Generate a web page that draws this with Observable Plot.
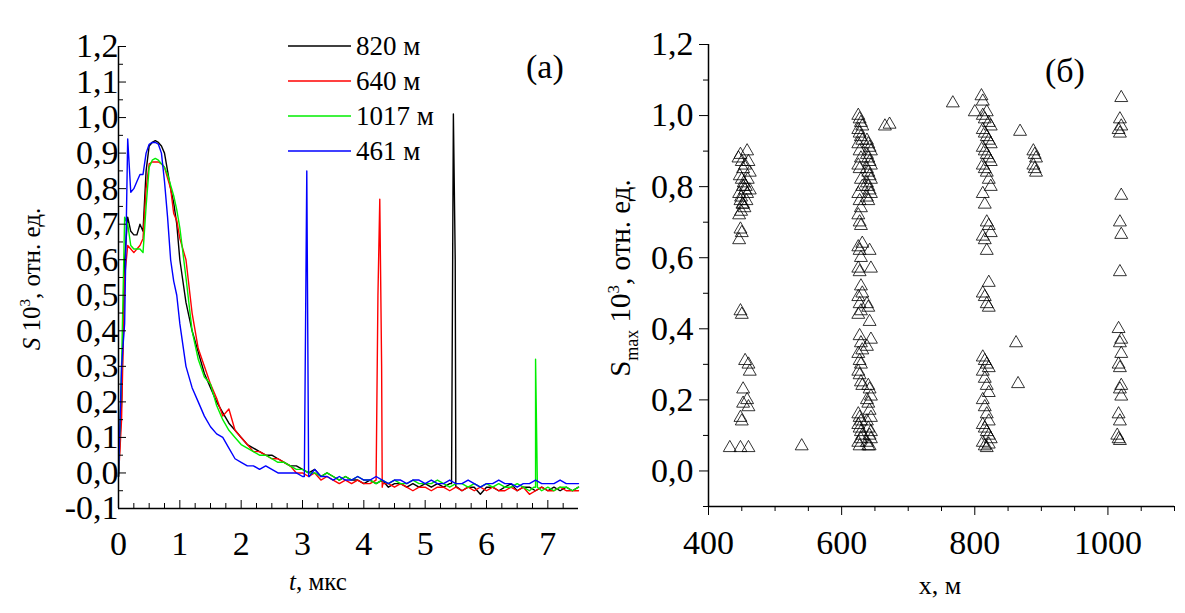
<!DOCTYPE html>
<html><head><meta charset="utf-8">
<script src="https://cdn.jsdelivr.net/npm/d3@7"></script>
<script src="https://cdn.jsdelivr.net/npm/@observablehq/plot@0.6"></script>
<style>
body{margin:0;background:#fff;}
#wrap{display:flex;width:1185px;height:613px;}
svg{overflow:visible}
</style></head><body><div id="wrap"><div id="a"></div><div id="b"></div></div>
<script>
// ---- panel (a) data ----
const tEarly = [0,0.05,0.1,0.15,0.2,0.25,0.3,0.35,0.4,0.45,0.5,0.55,0.6,0.65,0.7,0.75,0.8,0.85,0.9,0.95];
const tLate = d3.range(100, 751, 10).map(d => d / 100); // 1.0 .. 7.5 step 0.1
const s820Early = [-0.01,0.2,0.6,0.72,0.68,0.67,0.67,0.7,0.68,0.85,0.92,0.93,0.935,0.93,0.92,0.9,0.85,0.8,0.76,0.7];
const s820Late = [0.6,0.48,0.4,0.34,0.28,0.24,0.2,0.17,0.14,0.12,0.1,0.08,0.07,0.06,0.05,0.05,0.04,0.03,0.02,0.02,0.01,
 0.0,0.01,-0.01,0.0,-0.01,-0.02,-0.01,-0.02,-0.02,-0.03,
 -0.02,-0.03,-0.02,-0.04,-0.03,-0.03,-0.04,-0.03,-0.04,-0.03,
 -0.04,-0.03,-0.04,-0.03,-0.04,-0.05,-0.04,-0.04,-0.06,-0.04,
 -0.04,-0.05,-0.04,-0.03,-0.05,-0.04,-0.04,-0.05,-0.04,-0.05,
 -0.04,-0.05,-0.04,-0.05,-0.04];
const s820Spike = [[5.43,-0.03],[5.46,1.01],[5.49,0.6],[5.52,-0.04]];
const s640Early = [-0.01,0.15,0.55,0.64,0.63,0.62,0.63,0.64,0.66,0.8,0.87,0.875,0.875,0.875,0.87,0.86,0.83,0.8,0.73,0.71];
const s640Late = [0.66,0.6,0.45,0.35,0.3,0.25,0.21,0.16,0.18,0.12,0.1,0.08,0.06,0.06,0.05,0.04,0.04,0.03,0.02,0.0,0.0,
 -0.01,0.0,-0.02,-0.01,-0.02,-0.03,-0.02,-0.03,-0.02,-0.03,
 -0.03,-0.02,-0.04,-0.03,-0.04,-0.03,-0.04,-0.05,-0.04,-0.04,
 -0.05,-0.04,-0.04,-0.05,-0.04,-0.05,-0.04,-0.05,-0.04,-0.05,
 -0.04,-0.05,-0.05,-0.04,-0.05,-0.04,-0.06,-0.05,-0.04,-0.05,
 -0.05,-0.04,-0.05,-0.05,-0.05];
const s640Spike = [[4.2,-0.02],[4.23,0.5],[4.26,0.77],[4.29,0.3],[4.31,-0.03]];
const s1017Early = [-0.01,0.3,0.72,0.7,0.64,0.63,0.63,0.63,0.62,0.75,0.86,0.88,0.885,0.88,0.87,0.86,0.84,0.81,0.78,0.74];
const s1017Late = [0.69,0.55,0.4,0.32,0.27,0.25,0.19,0.15,0.12,0.1,0.08,0.07,0.06,0.05,0.05,0.04,0.03,0.03,0.02,0.01,0.01,
 0.0,0.0,-0.01,0.0,-0.01,-0.02,-0.01,-0.02,-0.01,-0.02,
 -0.02,-0.03,-0.02,-0.03,-0.02,-0.03,-0.03,-0.02,-0.03,-0.03,
 -0.03,-0.02,-0.03,-0.04,-0.03,-0.03,-0.04,-0.03,-0.04,-0.03,
 -0.04,-0.03,-0.04,-0.04,-0.03,-0.04,-0.05,-0.04,-0.05,-0.04,
 -0.05,-0.04,-0.04,-0.05,-0.04];
const s1017Spike = [[6.77,-0.04],[6.8,0.32],[6.83,-0.04]];
const s461Early = [-0.01,0.3,0.42,0.94,0.79,0.8,0.82,0.84,0.84,0.9,0.925,0.93,0.93,0.925,0.9,0.82,0.72,0.6,0.54,0.5];
const s461Late = [0.42,0.3,0.24,0.2,0.16,0.13,0.11,0.1,0.07,0.04,0.03,0.02,0.02,0.01,0.02,0.01,0.0,0.0,0.0,0.0,-0.01,
 -0.01,0.01,-0.01,-0.01,-0.02,-0.01,-0.02,-0.02,-0.01,-0.02,
 -0.02,-0.01,-0.02,-0.03,-0.02,-0.02,-0.03,-0.02,-0.02,-0.03,
 -0.02,-0.03,-0.03,-0.02,-0.03,-0.03,-0.02,-0.03,-0.04,-0.03,
 -0.03,-0.02,-0.03,-0.03,-0.04,-0.03,-0.03,-0.02,-0.03,-0.03,
 -0.03,-0.02,-0.03,-0.03,-0.03];
const s461Spike = [[3.03,-0.01],[3.07,0.85],[3.11,-0.01]];
const seriesNames = ["820 м","640 м","1017 м","461 м"];
const seriesColors = ["#000000","#ff0000","#00ee00","#0000ff"];

// ---- panel (б) data ----
const px450 = [432,448,460,445,448,450,452,455,458,460,462,447,450,453,456,459,462,446,449,452,455,458,448,451,454,457,446,449,452,448,450,446,448,450,455,460,462,452,458,460,448,450,452];
const py450 = [0.065,0.065,0.065,0.88,0.89,0.87,0.85,0.86,0.9,0.87,0.84,0.83,0.82,0.81,0.8,0.82,0.79,0.78,0.77,0.8,0.79,0.78,0.76,0.75,0.74,0.76,0.72,0.73,0.75,0.68,0.67,0.65,0.45,0.44,0.31,0.3,0.28,0.23,0.2,0.18,0.15,0.14,0.19];
const px540 = [540];
const py540 = [0.07];
const px630 = [625,627,629,631,625,627,629,631,625,627,629,625,627,629,631,625,627,629,625,627,629,631,625,627,629,625,627,629,631,625,627,629,625,627,629,631,625,627,629,625,627,629,631,625,627,629,625,627,629,631,625,627,629,
 638,640,642,644,638,640,642,644,638,640,642,644,638,640,642,644,638,640,642,644,638,640,642,644,638,640,642,644,638,640,642,644,638,640,642,644,638,640,642,644];
const py630 = [1.0,0.99,0.98,0.97,0.96,0.95,0.94,0.93,0.92,0.9,0.88,0.86,0.85,0.82,0.8,0.78,0.76,0.74,0.72,0.7,0.69,0.64,0.63,0.62,0.6,0.57,0.56,0.52,0.5,0.49,0.47,0.45,0.44,0.38,0.36,0.34,0.33,0.31,0.3,0.28,0.27,0.25,0.24,0.16,0.15,0.14,0.13,0.12,0.11,0.1,0.08,0.07,0.09,
 0.93,0.92,0.91,0.9,0.89,0.88,0.87,0.86,0.85,0.84,0.83,0.82,0.81,0.8,0.79,0.78,0.77,0.76,0.62,0.57,0.47,0.46,0.42,0.37,0.35,0.24,0.23,0.21,0.2,0.19,0.17,0.15,0.14,0.12,0.1,0.09,0.08,0.07,0.07,0.11];
const pxMid = [665,672,767,800,810,812,862,865,868,888,890,892,888,890,892];
const pyMid = [0.97,0.975,1.035,1.01,1.055,1.04,0.36,0.245,0.955,0.9,0.89,0.88,0.86,0.85,0.84];
const px815 = [812,815,818,821,824,812,815,818,821,824,812,815,818,821,824,812,815,818,821,824,812,815,818,821,824,812,815,818,821,812,815,818,821,812,815,818,821,812,815,818,821,812,815,818,821,812,815,818,821,824,812,815,818,821];
const py815 = [1.0,0.99,1.01,0.98,0.97,0.96,0.95,0.94,0.93,0.92,0.91,0.9,0.89,0.88,0.87,0.86,0.85,0.84,0.82,0.8,0.78,0.75,0.7,0.69,0.67,0.66,0.65,0.62,0.53,0.5,0.49,0.47,0.46,0.32,0.31,0.3,0.29,0.28,0.26,0.24,0.22,0.2,0.18,0.16,0.14,0.13,0.12,0.11,0.1,0.09,0.08,0.07,0.065,0.075];
const px1017 = [1020,1018,1020,1016,1018,1020,1018,1020,1018,1016,1020,1018,1020,1016,1018,1020,1018,1020,1016,1018,1014,1016,1018];
const py1017 = [1.05,0.99,0.97,0.96,0.95,0.775,0.7,0.665,0.56,0.4,0.37,0.36,0.33,0.3,0.29,0.24,0.23,0.21,0.16,0.14,0.1,0.09,0.085];

// ---- build ----
const FF = "'Liberation Serif','Times New Roman','DejaVu Serif',serif";
const fmt = d => d.toFixed(1).replace(".", ",");
function series(i, early, late, spike){
  const pts = early.map((v,k)=>({t:tEarly[k], v})).concat(late.map((v,k)=>({t:tLate[k], v}))).concat(spike.map(([t,v])=>({t,v})));
  pts.sort((a,b)=>a.t-b.t);
  return pts.map(p=>({...p, s:seriesNames[i]}));
}
const lineData = [].concat(
  series(0,s820Early,s820Late,s820Spike),
  series(1,s640Early,s640Late,s640Spike),
  series(2,s1017Early,s1017Late,s1017Spike),
  series(3,s461Early,s461Late,s461Spike));

function addText(svg, x, y, size, html, opts={}){
  const t = svg.append("text").attr("x",x).attr("y",y).attr("text-anchor",opts.anchor||"start")
    .style("font-size",size+"px").style("font-family",FF).html(html);
  if (opts.transform) t.attr("transform",opts.transform);
  return t;
}
function restyleTicks(svg){
  d3.select(svg).selectAll("text").style("font-family",FF).style("font-size","34px");
}

const A = Plot.plot({
  width:590, height:613, marginLeft:118, marginRight:12, marginTop:46, marginBottom:105,
  style:{background:"#fff", color:"#000", overflow:"visible"},
  x:{domain:[0,7.5], label:null},
  y:{domain:[-0.1,1.2], label:null},
  color:{domain:seriesNames, range:seriesColors},
  marks:[
    Plot.line(lineData,{x:"t",y:"v",z:"s",stroke:"s",strokeWidth:1.4}),
    Plot.ruleY([-0.1],{stroke:"#000",strokeWidth:1.5}),
    Plot.ruleX([0],{stroke:"#000",strokeWidth:1.5}),
    Plot.axisX({ticks:d3.range(0,8),tickSize:-8,tickFormat:d=>String(d),tickPadding:30}),
    Plot.axisX({ticks:d3.range(0.25,7.5,0.25).filter(d=>d%1),tickSize:-5,tickFormat:()=>""}),
    Plot.axisY({ticks:d3.range(-0.1,1.21,0.1).map(d=>+d.toFixed(1)),tickSize:-8,tickFormat:fmt,tickPadding:8}),
    Plot.axisY({ticks:d3.range(-0.05,1.2,0.1).map(d=>+d.toFixed(2)),tickSize:-5,tickFormat:()=>""})
  ]
});
restyleTicks(A);
(function(){
  const svg = d3.select(A);
  seriesNames.forEach((n,i)=>{
    const y = 46 + i*35;
    svg.append("line").attr("x1",288).attr("x2",351).attr("y1",y).attr("y2",y).attr("stroke",seriesColors[i]).attr("stroke-width",1.5);
    addText(svg,356,y+9,27,n);
  });
  addText(svg,526,78,34,"(a)");
  addText(svg,318,590,25,'<tspan font-style="italic">t</tspan>, мкс',{anchor:"middle"});
  addText(svg,0,0,25,'<tspan font-style="italic">S</tspan> 10<tspan dy="-10" style="font-size:15px">3</tspan><tspan dy="10">, отн. ед.</tspan>',{anchor:"middle",transform:"translate(40,279) rotate(-90)"});
})();
document.getElementById("a").append(A);

const scatter = [];
[[px450,py450],[px540,py540],[px630,py630],[pxMid,pyMid],[px815,py815],[px1017,py1017]].forEach(([xs,ys])=>xs.forEach((x,i)=>scatter.push({x,y:ys[i]})));
const B = Plot.plot({
  width:595, height:613, marginLeft:118, marginRight:11, marginTop:44, marginBottom:107,
  style:{background:"#fff", color:"#000", overflow:"visible"},
  x:{domain:[400,1100], label:null},
  y:{domain:[-0.1,1.2], label:null},
  marks:[
    Plot.dot(scatter,{x:"x",y:"y",symbol:"triangle",r:4.8,stroke:"#000",strokeWidth:0.8,fill:"none"}),
    Plot.ruleY([-0.1],{stroke:"#000",strokeWidth:1.5}),
    Plot.ruleX([400],{stroke:"#000",strokeWidth:1.5}),
    Plot.axisX({ticks:[400,600,800,1000],tickSize:9,tickFormat:d=>String(d),tickPadding:14}),
    Plot.axisX({ticks:[450,500,550,650,700,750,850,900,950,1050,1100],tickSize:5,tickFormat:()=>""}),
    Plot.axisY({ticks:[0,0.2,0.4,0.6,0.8,1.0,1.2],tickSize:9,tickFormat:fmt,tickPadding:6}),
    Plot.axisY({ticks:[-0.1,0.1,0.3,0.5,0.7,0.9,1.1],tickSize:5,tickFormat:()=>""})
  ]
});
restyleTicks(B);
(function(){
  const svg = d3.select(B);
  addText(svg,455,82,34,"(б)");
  addText(svg,350,594,26,"x, м",{anchor:"middle"});
  addText(svg,0,0,29,'S<tspan dy="8" style="font-size:18px">max</tspan><tspan dy="-8"> 10</tspan><tspan dy="-11" style="font-size:17px">3</tspan><tspan dy="11">, отн. ед.</tspan>',{anchor:"middle",transform:"translate(40,278) rotate(-90)"});
})();
document.getElementById("b").append(B);
</script></body></html>
